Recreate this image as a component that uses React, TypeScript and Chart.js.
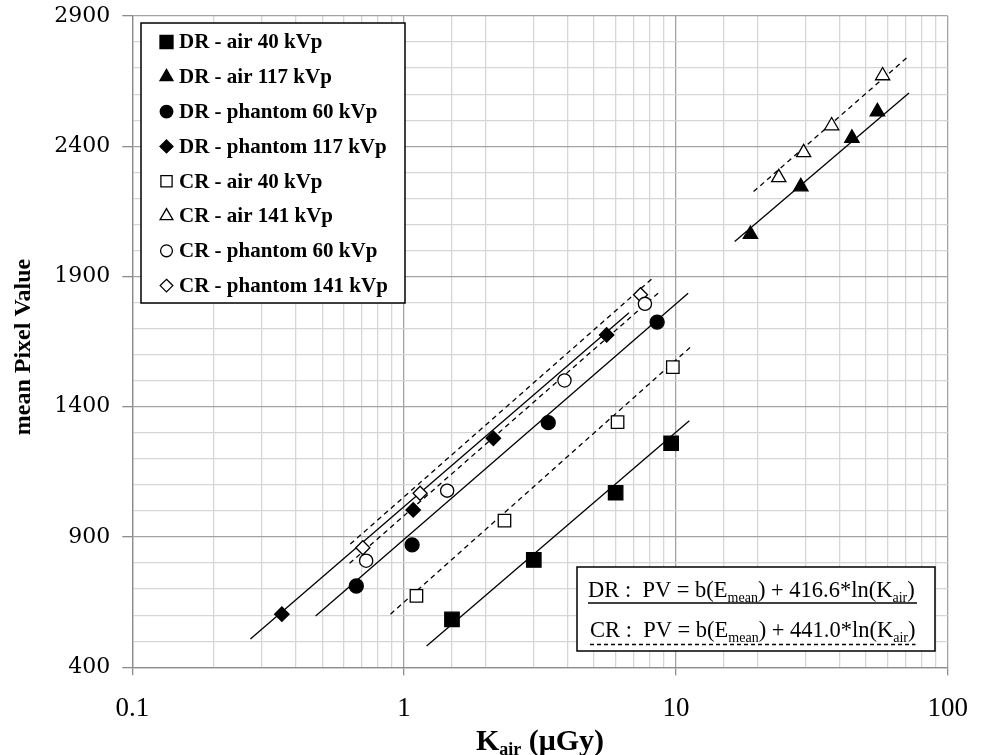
import React, { useEffect, useRef } from 'react';
import { Chart, registerables } from 'chart.js';

Chart.register(...registerables);

// ---- axis tick labels ----
const xTickLabels = [0.1, 1, 10, 100];
const yTickLabels = [400, 900, 1400, 1900, 2400, 2900];

// ---- measured points (K_air in µGy, mean pixel value) ----
const drAir40K = [1.5, 3.0, 6.0, 9.6];
const drAir40PV = [584, 812, 1070, 1260];
const drAir117K = [18.8, 28.8, 44.4, 55.1];
const drAir117PV = [2062, 2245, 2431, 2533];
const drPh60K = [0.667, 1.07, 3.39, 8.53];
const drPh60PV = [712, 870, 1339, 1725];
const drPh117K = [0.355, 1.08, 2.13, 5.56];
const drPh117PV = [604, 1004, 1279, 1676];
const crAir40K = [1.11, 2.34, 6.1, 9.74];
const crAir40PV = [674, 963, 1341, 1552];
const crAir141K = [23.9, 29.5, 37.4, 57.6];
const crAir141PV = [2280, 2376, 2479, 2671];
const crPh60K = [0.725, 1.44, 3.89, 7.69];
const crPh60PV = [809, 1078, 1501, 1795];
const crPh141K = [0.705, 1.145, 7.41];
const crPh141PV = [859, 1068, 1830];

// ---- fitted trend lines (end points) ----
const fitDrAir40K = [1.21, 11.2];
const fitDrAir40PV = [482, 1346];
const fitDrAir117K = [16.45, 72.0];
const fitDrAir117PV = [2034, 2604];
const fitDrPh60K = [0.4725, 11.09];
const fitDrPh60PV = [597, 1836];
const fitDrPh117K = [0.272, 6.72];
const fitDrPh117PV = [509, 1761];
const fitCrAir40K = [0.891, 11.37];
const fitCrAir40PV = [604, 1631];
const fitCrAir141K = [19.3, 72.0];
const fitCrAir141PV = [2226, 2747];
const fitCrPh60K = [0.63, 8.6];
const fitCrPh60PV = [799, 1836];
const fitCrPh141K = [0.634, 8.3];
const fitCrPh141PV = [873, 1898];

const seriesLabels = [
  'DR - air 40 kVp',
  'DR - air 117 kVp',
  'DR - phantom 60 kVp',
  'DR - phantom 117 kVp',
  'CR - air 40 kVp',
  'CR - air 141 kVp',
  'CR - phantom 60 kVp',
  'CR - phantom 141 kVp',
];

const eqDR = ['DR :  PV = b(E', 'mean', ') + 416.6*ln(K', 'air', ')'];
const eqCR = ['CR :  PV = b(E', 'mean', ') + 441.0*ln(K', 'air', ')'];

type PStyle = 'rect' | 'triangle' | 'circle' | 'rectRot';

const pts = (k: number[], v: number[]) => k.map((x, i) => ({ x, y: v[i] }));

const seriesDefs: { k: number[]; v: number[]; style: PStyle; filled: boolean; r: number }[] = [
  { k: drAir40K, v: drAir40PV, style: 'rect', filled: true, r: 10.2 },
  { k: drAir117K, v: drAir117PV, style: 'triangle', filled: true, r: 8.3 },
  { k: drPh60K, v: drPh60PV, style: 'circle', filled: true, r: 7 },
  { k: drPh117K, v: drPh117PV, style: 'rectRot', filled: true, r: 7.2 },
  { k: crAir40K, v: crAir40PV, style: 'rect', filled: false, r: 8.8 },
  { k: crAir141K, v: crAir141PV, style: 'triangle', filled: false, r: 8.2 },
  { k: crPh60K, v: crPh60PV, style: 'circle', filled: false, r: 6.6 },
  { k: crPh141K, v: crPh141PV, style: 'rectRot', filled: false, r: 7 },
];

const fitDefs: { k: number[]; v: number[]; dashed: boolean }[] = [
  { k: fitDrAir40K, v: fitDrAir40PV, dashed: false },
  { k: fitDrAir117K, v: fitDrAir117PV, dashed: false },
  { k: fitDrPh60K, v: fitDrPh60PV, dashed: false },
  { k: fitDrPh117K, v: fitDrPh117PV, dashed: false },
  { k: fitCrAir40K, v: fitCrAir40PV, dashed: true },
  { k: fitCrAir141K, v: fitCrAir141PV, dashed: true },
  { k: fitCrPh60K, v: fitCrPh60PV, dashed: true },
  { k: fitCrPh141K, v: fitCrPh141PV, dashed: true },
];

const SERIF = '"Liberation Serif", "DejaVu Serif", serif';

function drawMarker(ctx: CanvasRenderingContext2D, style: PStyle, x: number, y: number, r: number, filled: boolean) {
  ctx.beginPath();
  if (style === 'circle') {
    ctx.arc(x, y, r, 0, Math.PI * 2);
  } else if (style === 'rect') {
    const s = r * Math.SQRT1_2;
    ctx.rect(x - s, y - s, 2 * s, 2 * s);
  } else if (style === 'rectRot') {
    ctx.moveTo(x, y - r);
    ctx.lineTo(x + r, y);
    ctx.lineTo(x, y + r);
    ctx.lineTo(x - r, y);
    ctx.closePath();
  } else {
    const w = r * Math.sin(Math.PI / 3);
    ctx.moveTo(x, y - r);
    ctx.lineTo(x + w, y + r / 2);
    ctx.lineTo(x - w, y + r / 2);
    ctx.closePath();
  }
  ctx.fillStyle = filled ? '#000' : '#fff';
  ctx.fill();
  ctx.lineWidth = 1.3;
  ctx.strokeStyle = '#000';
  ctx.stroke();
}

function drawPieces(ctx: CanvasRenderingContext2D, pieces: string[], x: number, y: number, big: string, small: string) {
  let cx = x;
  pieces.forEach((p, i) => {
    const sub = i % 2 === 1;
    ctx.font = sub ? small : big;
    ctx.fillText(p, cx, sub ? y + 5 : y);
    cx += ctx.measureText(p).width;
  });
  return cx;
}

const overlayPlugin = {
  id: 'overlay',
  afterDraw(chart: any) {
    const ctx: CanvasRenderingContext2D = chart.ctx;
    ctx.save();
    ctx.fillStyle = '#000';
    ctx.textAlign = 'left';
    ctx.textBaseline = 'alphabetic';

    // y-axis title
    ctx.save();
    ctx.translate(30, 347);
    ctx.rotate(-Math.PI / 2);
    ctx.textAlign = 'center';
    ctx.font = `bold 24px ${SERIF}`;
    ctx.fillText('mean Pixel Value', 0, 0);
    ctx.restore();

    // x-axis title K_air (µGy)
    {
      const big = `bold 30px ${SERIF}`;
      const small = `bold 18px ${SERIF}`;
      ctx.font = big;
      const w1 = ctx.measureText('K').width;
      const w3 = ctx.measureText(' (\u03bcGy)').width;
      ctx.font = small;
      const w2 = ctx.measureText('air').width;
      let x = 540 - (w1 + w2 + w3) / 2;
      const y = 750;
      ctx.font = big;
      ctx.fillText('K', x, y);
      x += w1;
      ctx.font = small;
      ctx.fillText('air', x, y + 5);
      x += w2;
      ctx.font = big;
      ctx.fillText(' (\u03bcGy)', x, y);
    }

    // legend box
    ctx.fillStyle = '#fff';
    ctx.fillRect(141, 23, 264, 280);
    ctx.lineWidth = 1.5;
    ctx.strokeStyle = '#000';
    ctx.strokeRect(141, 23, 264, 280);
    seriesLabels.forEach((lab, i) => {
      const cy = 42 + i * 34.8;
      const d = seriesDefs[i];
      drawMarker(ctx, d.style, 166.5, cy, d.r * 0.9, d.filled);
      ctx.fillStyle = '#000';
      ctx.font = `bold 21px ${SERIF}`;
      ctx.textBaseline = 'middle';
      ctx.fillText(lab, 179, cy + 1);
    });

    // equation box
    ctx.textBaseline = 'alphabetic';
    ctx.fillStyle = '#fff';
    ctx.fillRect(577, 567, 358, 84);
    ctx.lineWidth = 1.5;
    ctx.strokeStyle = '#000';
    ctx.strokeRect(577, 567, 358, 84);
    ctx.fillStyle = '#000';
    const big = `22.5px ${SERIF}`;
    const small = `14px ${SERIF}`;
    const e1 = drawPieces(ctx, eqDR, 588, 597, big, small);
    const e2 = drawPieces(ctx, eqCR, 590, 637, big, small);
    ctx.lineWidth = 1.3;
    ctx.beginPath();
    ctx.moveTo(588, 603);
    ctx.lineTo(Math.max(e1, 917), 603);
    ctx.stroke();
    ctx.setLineDash([4, 3]);
    ctx.beginPath();
    ctx.moveTo(590, 644.5);
    ctx.lineTo(Math.max(e2, 913), 644.5);
    ctx.stroke();
    ctx.setLineDash([]);

    ctx.restore();
  },
};

const isDecade = (v: number) => xTickLabels.some((t) => Math.abs(t - v) / t < 1e-6);
const isMajorY = (v: number) => yTickLabels.includes(Math.round(v));

export default function App() {
  const ref = useRef<HTMLCanvasElement | null>(null);

  useEffect(() => {
    if (!ref.current) return;
    const datasets: any[] = [];
    seriesDefs.forEach((d, i) => {
      datasets.push({
        label: seriesLabels[i],
        data: pts(d.k, d.v),
        showLine: false,
        pointStyle: d.style,
        pointRadius: d.r,
        pointBackgroundColor: d.filled ? '#000' : '#fff',
        pointBorderColor: '#000',
        pointBorderWidth: 1.3,
        order: 0,
      });
    });
    fitDefs.forEach((f, i) => {
      datasets.push({
        label: 'fit ' + seriesLabels[i],
        data: pts(f.k, f.v),
        showLine: true,
        pointRadius: 0,
        borderColor: '#000',
        borderWidth: 1.3,
        borderDash: f.dashed ? [5, 4] : [],
        fill: false,
        order: 1,
      });
    });

    const chart = new Chart(ref.current, {
      type: 'scatter',
      data: { datasets },
      plugins: [overlayPlugin],
      options: {
        animation: false,
        responsive: false,
        devicePixelRatio: 1,
        layout: { padding: { top: 16, right: 36, left: 0, bottom: 0 } },
        plugins: { legend: { display: false }, tooltip: { enabled: false } },
        scales: {
          x: {
            type: 'logarithmic',
            min: 0.1,
            max: 100,
            afterFit: (s: any) => {
              s.height = 87.7;
            },
            border: { display: true, color: '#8c8c8c', width: 1.3 },
            grid: {
              color: (c: any) => (c.tick && isDecade(c.tick.value) ? '#a3a3a3' : '#d6d6d6'),
              lineWidth: 1.3,
              tickLength: 8,
              tickColor: (c: any) => (c.tick && isDecade(c.tick.value) ? '#8c8c8c' : 'rgba(0,0,0,0)'),
            },
            ticks: {
              autoSkip: false,
              maxRotation: 0,
              padding: 17,
              color: '#000',
              font: { family: SERIF, size: 27 },
              callback: (v: any) => {
                const n = Number(v);
                const t = xTickLabels.find((q) => Math.abs(q - n) / q < 1e-6);
                return t === undefined ? '' : String(t);
              },
            },
          },
          y: {
            type: 'linear',
            min: 400,
            max: 2900,
            afterFit: (s: any) => {
              s.width = 132.3;
              s.paddingTop = 0;
              s.paddingBottom = 0;
            },
            border: { display: true, color: '#8c8c8c', width: 1.3 },
            grid: {
              color: (c: any) => (c.tick && isMajorY(c.tick.value) ? '#a3a3a3' : '#d6d6d6'),
              lineWidth: 1.3,
              tickLength: 10,
              tickColor: (c: any) => (c.tick && isMajorY(c.tick.value) ? '#8c8c8c' : 'rgba(0,0,0,0)'),
            },
            ticks: {
              stepSize: 100,
              autoSkip: false,
              padding: 12,
              color: '#000',
              font: { family: '"DejaVu Serif", serif', size: 22 },
              callback: (v: any) => (isMajorY(Number(v)) ? String(v) : ''),
            },
          },
        },
      },
    });
    return () => chart.destroy();
  }, []);

  return (
    <div style={{ position: 'fixed', left: 0, top: 0, width: 985, height: 755, background: '#fff' }}>
      <canvas ref={ref} width={985} height={755} style={{ display: 'block' }} />
    </div>
  );
}
